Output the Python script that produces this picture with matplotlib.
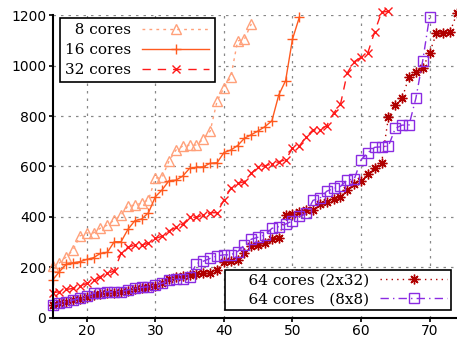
import numpy as np
import matplotlib
matplotlib.use("Agg")
import matplotlib.pyplot as plt

# ==== data: solved instances (x) vs time (y) ====
x8 = list(range(15, 45))
t8 = [205, 218, 242, 269, 325, 337, 337, 356, 368, 388, 408, 444, 447, 455, 468,
      554, 558, 622, 665, 681, 685, 685, 709, 740, 859, 911, 954, 1097, 1105, 1165]

x16 = list(range(15, 52))
t16 = [150, 183, 213, 219, 223, 232, 239, 256, 260, 302, 302, 351, 385, 392, 417,
       480, 508, 544, 546, 562, 593, 597, 599, 613, 615, 655, 665, 683, 712, 726,
       741, 758, 781, 883, 940, 1104, 1191]

x32 = list(range(15, 65))
t32 = [100, 104, 113, 117, 127, 137, 150, 164, 177, 186, 256, 280, 289, 289, 296,
       315, 324, 345, 359, 372, 399, 399, 408, 417, 417, 467, 513, 533, 540, 573,
       599, 603, 610, 619, 626, 672, 681, 718, 745, 745, 762, 811, 846, 971, 1015,
       1032, 1051, 1134, 1212, 1214]

x64a = list(range(15, 75))
t64a = [50, 60, 63, 70, 77, 83, 90, 95, 98, 100, 102, 108, 115, 118, 124,
        128, 140, 155, 164, 168, 170, 174, 177, 180, 192, 222, 226, 230, 259, 285,
        289, 298, 312, 316, 408, 410, 421, 426, 429, 450, 459, 472, 481, 507, 529,
        544, 570, 596, 614, 795, 844, 870, 956, 973, 989, 1051, 1127, 1130, 1134, 1207]

x64b = list(range(15, 71))
t64b = [51, 58, 65, 71, 78, 86, 98, 100, 104, 104, 104, 111, 117, 121, 124,
        131, 137, 150, 153, 153, 164, 215, 225, 236, 246, 250, 250, 263, 289, 312,
        320, 329, 355, 362, 372, 384, 402, 414, 466, 474, 502, 513, 521, 547, 549,
        626, 655, 676, 678, 681, 751, 764, 764, 870, 1019, 1194]

fig = plt.figure(figsize=(4.57, 3.38), dpi=100)
ax = fig.add_axes([0.1149, 0.0592, 0.8851, 0.8964])

kw = dict(linewidth=1.0, markersize=7, markeredgewidth=1.0, clip_on=False)
l8, = ax.plot(x8, t8, color="#ffa07a", linestyle=(0, (2, 3)), marker="^",
              fillstyle="none", label="\u20078 cores", **kw)
l16, = ax.plot(x16, t16, color="#ff5a1f", linestyle="-", marker="+",
               label="16 cores", **kw)
l32, = ax.plot(x32, t32, color="#ff1a1a", linestyle=(0, (6, 5)), marker="x",
               markersize=6, linewidth=1.0, markeredgewidth=1.0, clip_on=False,
               label="32 cores")
l64a, = ax.plot(x64a, t64a, color="#b00000", linestyle=(0, (1, 3)), marker=(8, 2, 0),
                markersize=7, linewidth=1.0, markeredgewidth=1.0, clip_on=False,
                label="    64 cores (2x32)")
l64b, = ax.plot(x64b, t64b, color="#8a2be2", linestyle=(0, (6, 3, 1, 3)), marker="s",
                fillstyle="none", markersize=7, linewidth=1.0, markeredgewidth=1.0,
                clip_on=False, label="    64 cores\u2007 (8x8)")

ax.set_xlim(15, 74)
ax.set_ylim(0, 1200)
ax.set_xticks([20, 30, 40, 50, 60, 70])
ax.set_yticks([0, 200, 400, 600, 800, 1000, 1200])
ax.tick_params(labelsize=10, direction="out", length=3, width=1.2, pad=1.5)
ax.grid(True, color="#888888", linestyle=(0, (2, 4)), linewidth=0.9)
ax.set_axisbelow(True)
for s in ["top", "right"]:
    ax.spines[s].set_visible(False)
for s in ["left", "bottom"]:
    ax.spines[s].set_linewidth(1.5)

lprops = dict(family="DejaVu Serif", size=11)
leg1 = ax.legend(handles=[l8, l16, l32], loc="upper left", bbox_to_anchor=(0.018, 0.99),
                 markerfirst=False, prop=lprops, handlelength=4.4, labelspacing=0.38,
                 borderpad=0.35, handletextpad=0.7, fancybox=False, framealpha=1,
                 edgecolor="black", borderaxespad=0)
leg1.get_frame().set_linewidth(1.2)
ax.add_artist(leg1)

leg2 = ax.legend(handles=[l64a, l64b], loc="lower right", bbox_to_anchor=(0.985, 0.025),
                 markerfirst=False, prop=lprops, handlelength=4.4, labelspacing=0.32,
                 borderpad=0.25, handletextpad=0.7, fancybox=False, framealpha=1,
                 edgecolor="black", borderaxespad=0)
leg2.get_frame().set_linewidth(1.2)

fig.savefig("out.png", dpi=100)
